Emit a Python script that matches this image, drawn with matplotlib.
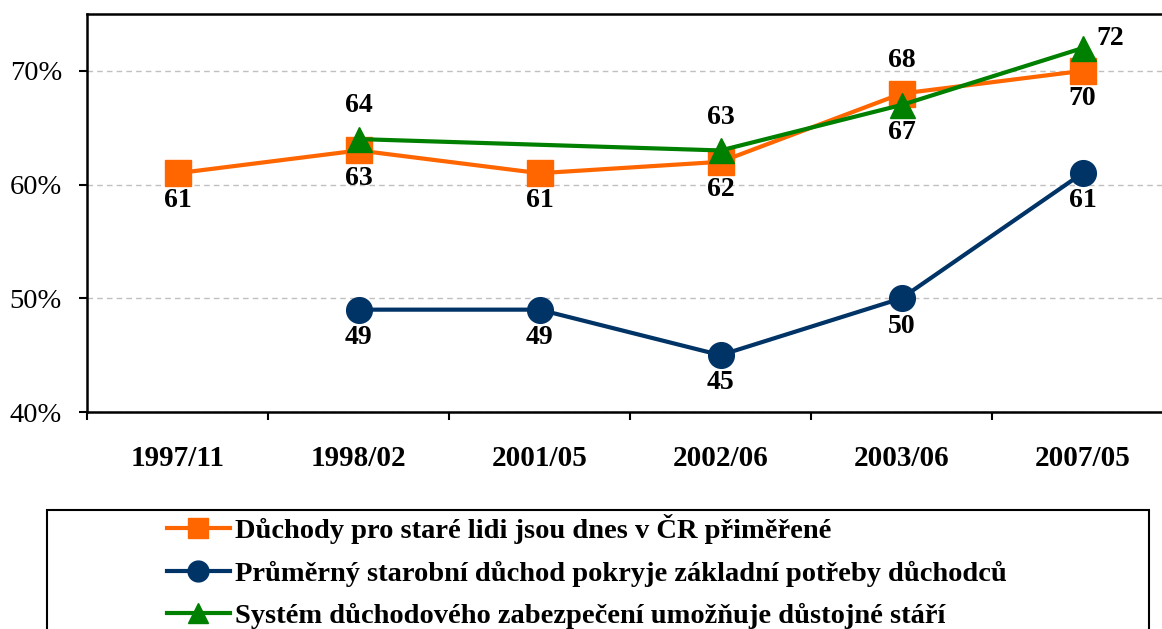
import numpy as np
import matplotlib
matplotlib.use("Agg")
import matplotlib.pyplot as plt
from matplotlib.patches import Rectangle
from matplotlib.lines import Line2D

plt.rcParams['font.family'] = ['Liberation Serif', 'DejaVu Serif']

categories = ["1997/11", "1998/02", "2001/05", "2002/06", "2003/06", "2007/05"]
adequate = [61, 63, 61, 62, 68, 70]
basic_needs = [None, 49, 49, 45, 50, 61]
dignified = [None, 64, None, 63, 67, 72]

names = ["Důchody pro staré lidi jsou dnes v ČR přiměřené",
         "Průměrný starobní důchod pokryje základní potřeby důchodců",
         "Systém důchodového zabezpečení umožňuje důstojné stáří"]
yticks = [40, 50, 60, 70]

fig = plt.figure(figsize=(11.62, 6.29), dpi=100)
ax = fig.add_axes([87/1162, 1-412/629, (1173-87)/1162, (412-14)/629])

x = np.arange(len(categories))

def pts(vals):
    xs = [i for i, v in enumerate(vals) if v is not None]
    ys = [v for v in vals if v is not None]
    return xs, ys

orange = "#FF6600"; navy = "#003366"; green = "#008000"
series = [
    (adequate, orange, 's', 18.5, ['b', 'b', 'b', 'b', 'a', 'b']),
    (basic_needs, navy, 'o', 18.5, ['b'] * 6),
    (dignified, green, '^', 18, [None, 'a', None, 'a', 'b', 'r']),
]
for (vals, col, mk, ms, pos) in series:
    xs, ys = pts(vals)
    ax.plot(xs, ys, color=col, lw=3, marker=mk, ms=ms, zorder=3)
    for xi, yi in zip(xs, ys):
        p = pos[xi]
        if p == 'b':
            ax.annotate(str(yi), (xi, yi), xytext=(0, -20), textcoords='offset points',
                        ha='center', va='center', fontsize=20, fontweight='bold')
        elif p == 'a':
            ax.annotate(str(yi), (xi, yi), xytext=(0, 24), textcoords='offset points',
                        ha='center', va='center', fontsize=20, fontweight='bold')
        elif p == 'r':
            ax.annotate(str(yi), (xi, yi), xytext=(20, 7), textcoords='offset points',
                        ha='center', va='center', fontsize=20, fontweight='bold')

ax.set_xlim(-0.5, 5.5)
ax.set_ylim(40, 75)
ax.set_yticks(yticks)
ax.set_yticklabels([f"{t}%" for t in yticks], fontsize=20.5)
ax.yaxis.grid(True, ls=(0, (4, 3)), color='#C0C0C0', lw=1)
ax.set_axisbelow(True)

ax.set_xticks(np.arange(-0.5, 6.0, 1.0))
ax.set_xticklabels([])
ax.set_xticks(x, minor=True)
ax.set_xticklabels(categories, minor=True, fontsize=21, fontweight='bold')
ax.tick_params(axis='x', which='major', direction='out', length=6, width=1.5)
ax.tick_params(axis='x', which='minor', length=0, pad=24)
ax.tick_params(axis='y', direction='out', length=6, width=1.5, pad=12)
for s in ['left', 'bottom', 'top', 'right']:
    ax.spines[s].set_linewidth(1.8)
    ax.spines[s].set_color('black')

# legend box
fig.patches.append(Rectangle((47/1162, -0.05), (1149-47)/1162, 1-510/629+0.05,
                             transform=fig.transFigure, fill=False, ec='black', lw=1.5))
handles = [Line2D([], [], color=c, lw=3, marker=m, ms=15) for c, m in [(orange, 's'), (navy, 'o'), (green, '^')]]
fig.legend(handles, names, loc='upper left', bbox_to_anchor=(150/1162, 1-497/629),
           frameon=False, prop={'size': 20.5, 'weight': 'bold'}, handlelength=2.2,
           handletextpad=0.2, labelspacing=0.58, borderpad=0.1)

fig.savefig("out.png", dpi=100)
